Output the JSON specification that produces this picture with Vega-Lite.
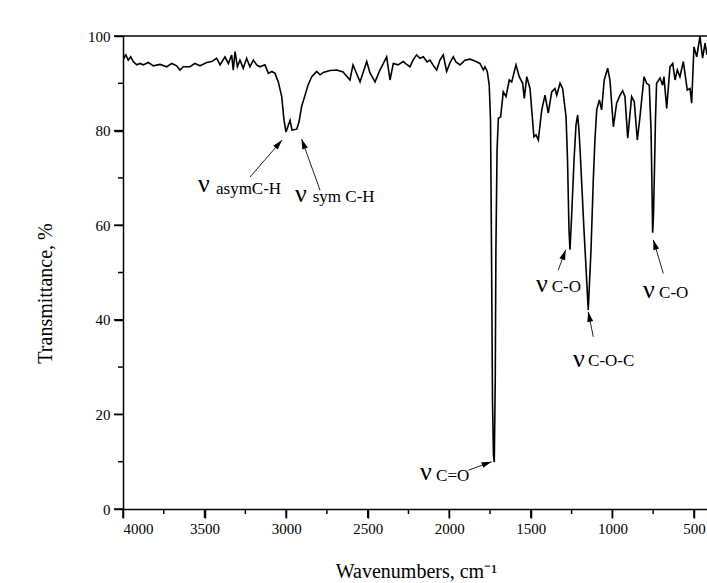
{
  "$schema": "https://vega.github.io/schema/vega-lite/v6.json",
  "autosize": {"type": "none"},
  "padding": {"left": 123, "top": 36, "right": 0, "bottom": 74},
  "width": 584,
  "height": 473,
  "background": "white",
  "config": {
    "view": {"stroke": null},
    "font": "Liberation Serif",
    "axis": {
      "domainColor": "black", "domainWidth": 1.5,
      "ticks": true, "tickColor": "black", "tickWidth": 1.5, "tickOpacity": 1,
      "labelColor": "black", "labelFont": "Liberation Serif", "labelFontSize": 15,
      "titleFont": "Liberation Serif", "titleFontSize": 20, "titleFontWeight": "normal", "titleColor": "black",
      "grid": false, "labelPadding": 3, "labelOverlap": false, "format": "d"
    }
  },
  "datasets": {
    "ir": [
      {"wn":4000,"t":96.7},{"wn":3994,"t":95.3},{"wn":3982,"t":96.0},{"wn":3968,"t":94.9},{"wn":3953,"t":95.6},{"wn":3937,"t":94.6},{"wn":3916,"t":93.9},{"wn":3896,"t":94.2},{"wn":3876,"t":93.9},{"wn":3845,"t":94.4},{"wn":3814,"t":93.7},{"wn":3773,"t":94.0},{"wn":3732,"t":93.5},{"wn":3701,"t":94.2},{"wn":3671,"t":93.7},{"wn":3651,"t":92.8},{"wn":3630,"t":93.5},{"wn":3589,"t":93.5},{"wn":3559,"t":94.2},{"wn":3528,"t":93.7},{"wn":3487,"t":94.4},{"wn":3456,"t":94.6},{"wn":3426,"t":95.3},{"wn":3405,"t":93.9},{"wn":3375,"t":95.6},{"wn":3354,"t":94.2},{"wn":3334,"t":96.0},{"wn":3324,"t":92.8},{"wn":3313,"t":96.7},{"wn":3299,"t":93.5},{"wn":3283,"t":94.9},{"wn":3263,"t":93.2},{"wn":3242,"t":95.3},{"wn":3222,"t":93.5},{"wn":3201,"t":94.9},{"wn":3180,"t":93.9},{"wn":3160,"t":93.5},{"wn":3130,"t":93.9},{"wn":3109,"t":92.1},{"wn":3088,"t":92.5},{"wn":3068,"t":92.1},{"wn":3048,"t":90.3},{"wn":3027,"t":87.2},{"wn":3013,"t":82.2},{"wn":3001,"t":79.7},{"wn":2976,"t":82.2},{"wn":2964,"t":80.1},{"wn":2935,"t":80.3},{"wn":2921,"t":81.8},{"wn":2905,"t":85.1},{"wn":2884,"t":87.5},{"wn":2866,"t":89.6},{"wn":2843,"t":91.4},{"wn":2813,"t":92.5},{"wn":2792,"t":91.8},{"wn":2772,"t":92.3},{"wn":2731,"t":92.7},{"wn":2690,"t":92.8},{"wn":2651,"t":92.4},{"wn":2609,"t":90.7},{"wn":2590,"t":93.9},{"wn":2572,"t":92.4},{"wn":2547,"t":90.3},{"wn":2506,"t":94.6},{"wn":2486,"t":92.2},{"wn":2455,"t":90.3},{"wn":2425,"t":92.8},{"wn":2404,"t":94.2},{"wn":2384,"t":95.6},{"wn":2363,"t":90.7},{"wn":2343,"t":94.2},{"wn":2314,"t":93.9},{"wn":2282,"t":94.6},{"wn":2265,"t":94.1},{"wn":2241,"t":93.5},{"wn":2222,"t":94.9},{"wn":2200,"t":96.0},{"wn":2179,"t":95.3},{"wn":2159,"t":95.6},{"wn":2136,"t":94.5},{"wn":2118,"t":94.9},{"wn":2100,"t":93.9},{"wn":2077,"t":92.8},{"wn":2057,"t":94.9},{"wn":2037,"t":96.0},{"wn":2016,"t":92.5},{"wn":1996,"t":94.3},{"wn":1975,"t":95.6},{"wn":1959,"t":94.5},{"wn":1934,"t":93.9},{"wn":1904,"t":94.9},{"wn":1873,"t":95.1},{"wn":1842,"t":94.7},{"wn":1812,"t":94.2},{"wn":1791,"t":92.8},{"wn":1781,"t":93.5},{"wn":1767,"t":92.5},{"wn":1755,"t":89.6},{"wn":1747,"t":82.2},{"wn":1741,"t":54.8},{"wn":1735,"t":23.0},{"wn":1729,"t":11.4},{"wn":1724,"t":9.9},{"wn":1718,"t":27.3},{"wn":1714,"t":54.8},{"wn":1707,"t":75.9},{"wn":1699,"t":82.6},{"wn":1685,"t":82.9},{"wn":1669,"t":88.2},{"wn":1652,"t":87.2},{"wn":1632,"t":90.7},{"wn":1617,"t":90.3},{"wn":1591,"t":93.9},{"wn":1571,"t":91.4},{"wn":1550,"t":90.0},{"wn":1540,"t":86.8},{"wn":1525,"t":91.4},{"wn":1505,"t":88.9},{"wn":1481,"t":78.7},{"wn":1468,"t":79.1},{"wn":1454,"t":78.0},{"wn":1433,"t":84.4},{"wn":1413,"t":87.5},{"wn":1393,"t":83.7},{"wn":1372,"t":88.2},{"wn":1352,"t":88.9},{"wn":1341,"t":87.5},{"wn":1321,"t":90.0},{"wn":1305,"t":88.9},{"wn":1284,"t":82.9},{"wn":1275,"t":73.8},{"wn":1266,"t":59.0},{"wn":1260,"t":54.8},{"wn":1251,"t":61.1},{"wn":1235,"t":73.8},{"wn":1223,"t":81.2},{"wn":1213,"t":83.3},{"wn":1205,"t":80.1},{"wn":1198,"t":75.9},{"wn":1174,"t":59.0},{"wn":1148,"t":42.1},{"wn":1131,"t":54.8},{"wn":1117,"t":69.6},{"wn":1107,"t":78.0},{"wn":1096,"t":84.4},{"wn":1080,"t":86.5},{"wn":1066,"t":84.4},{"wn":1050,"t":90.7},{"wn":1029,"t":93.2},{"wn":1015,"t":90.7},{"wn":994,"t":80.8},{"wn":974,"t":85.8},{"wn":953,"t":87.5},{"wn":937,"t":88.4},{"wn":923,"t":87.2},{"wn":906,"t":78.4},{"wn":882,"t":87.2},{"wn":866,"t":86.1},{"wn":847,"t":78.0},{"wn":831,"t":82.9},{"wn":806,"t":91.4},{"wn":790,"t":90.0},{"wn":774,"t":89.6},{"wn":763,"t":80.1},{"wn":757,"t":67.4},{"wn":753,"t":58.4},{"wn":748,"t":62.2},{"wn":742,"t":71.7},{"wn":736,"t":82.2},{"wn":729,"t":90.0},{"wn":708,"t":91.1},{"wn":692,"t":89.6},{"wn":684,"t":91.4},{"wn":667,"t":84.7},{"wn":647,"t":93.5},{"wn":630,"t":94.2},{"wn":616,"t":90.7},{"wn":602,"t":92.8},{"wn":586,"t":91.4},{"wn":565,"t":94.6},{"wn":541,"t":88.6},{"wn":524,"t":88.9},{"wn":514,"t":85.8},{"wn":500,"t":97.7},{"wn":483,"t":95.6},{"wn":463,"t":99.9},{"wn":447,"t":95.3},{"wn":432,"t":98.5},{"wn":420,"t":96.0}
    ],
    "labels": [
      {"nx":3540,"ny":67.0,"tx":3430,"ty":66.5,"txt":"asymC-H"},
      {"nx":2946,"ny":64.9,"tx":2837,"ty":64.9,"txt":"sym C-H"},
      {"nx":2179,"ny":6.1,"tx":2081,"ty":5.9,"txt":"C=O"},
      {"nx":1468,"ny":45.9,"tx":1372,"ty":45.9,"txt":"C-O"},
      {"nx":1241,"ny":30.0,"tx":1149,"ty":30.2,"txt":"C-O-C"},
      {"nx":812,"ny":44.6,"tx":714,"ty":44.7,"txt":"C-O"}
    ],
    "arrows": [
      {"x1":3221,"y1":70.2,"x2":3025,"y2":78.0,"ang":40.9},
      {"x1":2792,"y1":67.4,"x2":2905,"y2":78.2,"ang":-19.8},
      {"x1":1883,"y1":8.2,"x2":1740,"y2":10.0,"ang":70.5},
      {"x1":1332,"y1":50.5,"x2":1286,"y2":54.8,"ang":20.3},
      {"x1":1117,"y1":36.4,"x2":1148,"y2":41.7,"ang":-11.3},
      {"x1":688,"y1":49.8,"x2":749,"y2":56.9,"ang":-16.7}
    ],
    "xmajor": [{"v":4000},{"v":3500},{"v":3000},{"v":2500},{"v":2000},{"v":1500},{"v":1000},{"v":500}],
    "xminor": [{"v":3750},{"v":3250},{"v":2750},{"v":2250},{"v":1750},{"v":1250},{"v":750}],
    "ymajor": [{"v":0},{"v":20},{"v":40},{"v":60},{"v":80},{"v":100}],
    "yminor": [{"v":10},{"v":30},{"v":50},{"v":70},{"v":90}]
  },
  "layer": [
    {
      "data": {"name": "ir"},
      "mark": {"type": "line", "color": "black", "strokeWidth": 1.6, "clip": true},
      "encoding": {
        "x": {"field": "wn", "type": "quantitative",
          "scale": {"domain": [420, 4000], "reverse": true, "nice": false, "zero": false},
          "axis": {"values": [4000,3500,3000,2500,2000,1500,1000,500],
            "tickSize": 9, "labelPadding": 3,
            "title": "Wavenumbers, cm⁻¹", "titleX": 293, "titleY": 68, "titleBaseline": "alphabetic"}},
        "y": {"field": "t", "type": "quantitative",
          "scale": {"domain": [0, 100], "nice": false, "zero": false},
          "axis": {"values": [0,20,40,60,80,100],
            "tickSize": 9, "labelPadding": 4,
            "title": "Transmittance, %", "titleX": -78, "titleY": 257, "titleAngle": -90, "titleBaseline": "middle", "titleAlign": "center"}}
      }
    },
    {
      "data": {"name": "xmajor"},
      "mark": {"type": "tick", "orient": "vertical", "color": "black", "thickness": 1.5, "size": 9, "yOffset": 4.5, "opacity": 1, "clip": false},
      "encoding": {"x": {"field": "v", "type": "quantitative"}, "y": {"datum": 0}}
    },
    {
      "data": {"name": "xminor"},
      "mark": {"type": "tick", "orient": "vertical", "color": "black", "thickness": 1.5, "size": 5, "yOffset": 2.5, "opacity": 1, "clip": false},
      "encoding": {"x": {"field": "v", "type": "quantitative"}, "y": {"datum": 0}}
    },
    {
      "data": {"name": "ymajor"},
      "mark": {"type": "tick", "orient": "horizontal", "color": "black", "thickness": 1.5, "size": 9, "xOffset": -4.5, "opacity": 1, "clip": false},
      "encoding": {"y": {"field": "v", "type": "quantitative"}, "x": {"datum": 4000}}
    },
    {
      "data": {"name": "yminor"},
      "mark": {"type": "tick", "orient": "horizontal", "color": "black", "thickness": 1.5, "size": 5, "xOffset": -2.5, "opacity": 1, "clip": false},
      "encoding": {"y": {"field": "v", "type": "quantitative"}, "x": {"datum": 4000}}
    },
    {
      "data": {"values": [{}]},
      "mark": {"type": "rule", "color": "black", "strokeWidth": 1.5},
      "encoding": {"y": {"datum": 100}}
    },
    {
      "data": {"name": "arrows"},
      "mark": {"type": "rule", "color": "#222222", "strokeWidth": 1},
      "encoding": {
        "x": {"field": "x1", "type": "quantitative"},
        "y": {"field": "y1", "type": "quantitative"},
        "x2": {"field": "x2"},
        "y2": {"field": "y2"}
      }
    },
    {
      "data": {"name": "arrows"},
      "mark": {"type": "point", "shape": "M0,0L0.6,2L-0.6,2Z", "filled": true, "color": "black", "opacity": 1, "size": 100},
      "encoding": {
        "x": {"field": "x2", "type": "quantitative"},
        "y": {"field": "y2", "type": "quantitative"},
        "angle": {"field": "ang", "type": "quantitative", "scale": null}
      }
    },
    {
      "data": {"name": "labels"},
      "mark": {"type": "text", "text": "ν", "align": "left", "baseline": "alphabetic", "fontSize": 26, "font": "Liberation Serif", "color": "black"},
      "encoding": {
        "x": {"field": "nx", "type": "quantitative"},
        "y": {"field": "ny", "type": "quantitative"}
      }
    },
    {
      "data": {"name": "labels"},
      "mark": {"type": "text", "align": "left", "baseline": "alphabetic", "fontSize": 17, "font": "Liberation Serif", "color": "black"},
      "encoding": {
        "x": {"field": "tx", "type": "quantitative"},
        "y": {"field": "ty", "type": "quantitative"},
        "text": {"field": "txt"}
      }
    }
  ]
}
